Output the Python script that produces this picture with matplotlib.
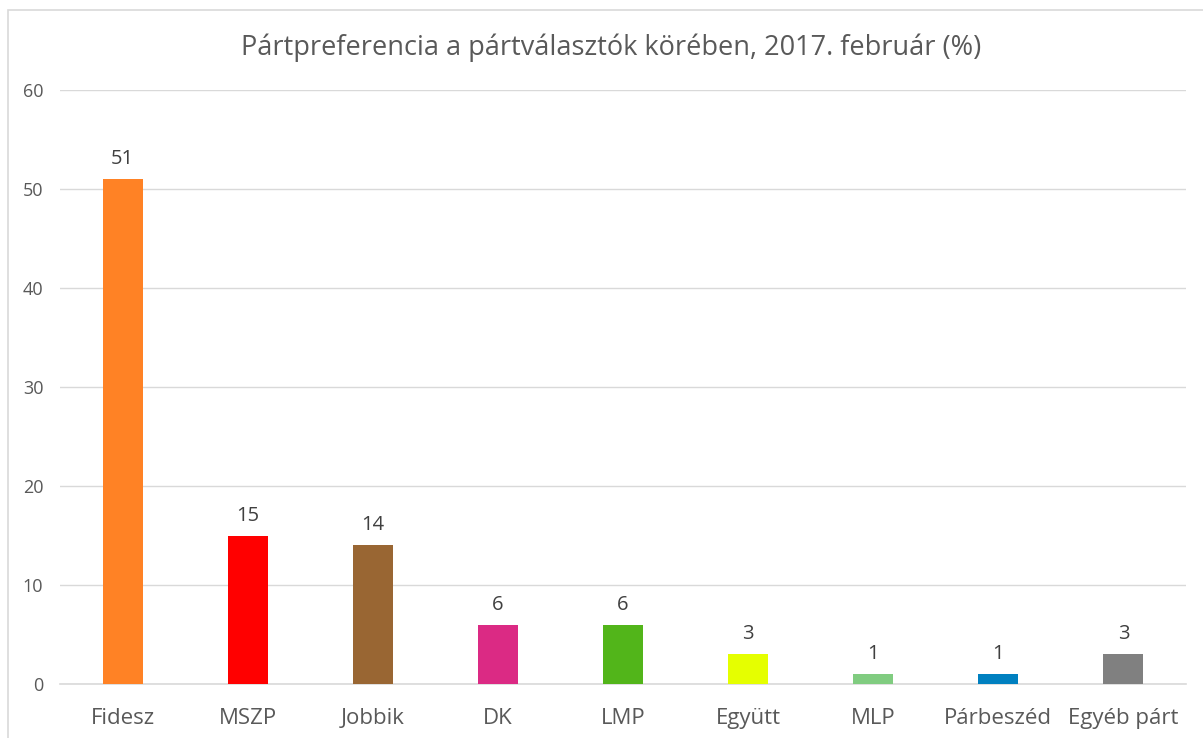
import matplotlib.pyplot as plt
from matplotlib.patches import Rectangle

# data
parties = ['Fidesz', 'MSZP', 'Jobbik', 'DK', 'LMP', 'Együtt', 'MLP', 'Párbeszéd', 'Egyéb párt']
values = [51, 15, 14, 6, 6, 3, 1, 1, 3]
colors = ['#FF8225', '#FF0000', '#996633', '#DB2A84', '#52B51A', '#E5FF00', '#80CC80', '#0080C0', '#808080']
yticks = [0, 10, 20, 30, 40, 50, 60]

plt.rcParams['font.family'] = ['Open Sans', 'DejaVu Sans']

fig = plt.figure(figsize=(12.03, 7.38), dpi=100)
ax = fig.add_axes([60 / 1203, 54 / 738, 1126 / 1203, 594 / 738])

# outer chart border (cut off on right/bottom in the original)
fig.patches.append(Rectangle((8 / 1203, -0.1), 1.2, (738 - 10) / 738 + 0.1,
                             transform=fig.transFigure, fill=False,
                             edgecolor='#D9D9D9', linewidth=1.2))

x = range(len(parties))
bars = ax.bar(x, values, width=0.32, color=colors, zorder=3)
for b, v in zip(bars, values):
    ax.text(b.get_x() + b.get_width() / 2, v + 1.0, str(v), ha='center', va='bottom',
            fontsize=14.5, color='#404040')

ax.set_xlim(-0.5, len(parties) - 0.5)
ax.set_ylim(0, 60)
ax.set_yticks(yticks)
ax.set_xticks(list(x))
ax.set_xticklabels(parties, fontsize=16, color='#595959')
ax.tick_params(axis='y', labelsize=13, labelcolor='#595959', length=0, pad=12)
ax.tick_params(axis='x', length=0, pad=17)
ax.grid(axis='y', color='#D9D9D9', linewidth=1, zorder=0)
for s in ['top', 'right', 'left']:
    ax.spines[s].set_visible(False)
ax.spines['bottom'].set_color('#D9D9D9')
ax.spines['bottom'].set_linewidth(1.2)

fig.text(0.508, 0.935, 'Pártpreferencia a pártválasztók körében, 2017. február (%)',
         ha='center', va='center', fontsize=19.5, color='#595959')

fig.savefig('out.png', dpi=100)
